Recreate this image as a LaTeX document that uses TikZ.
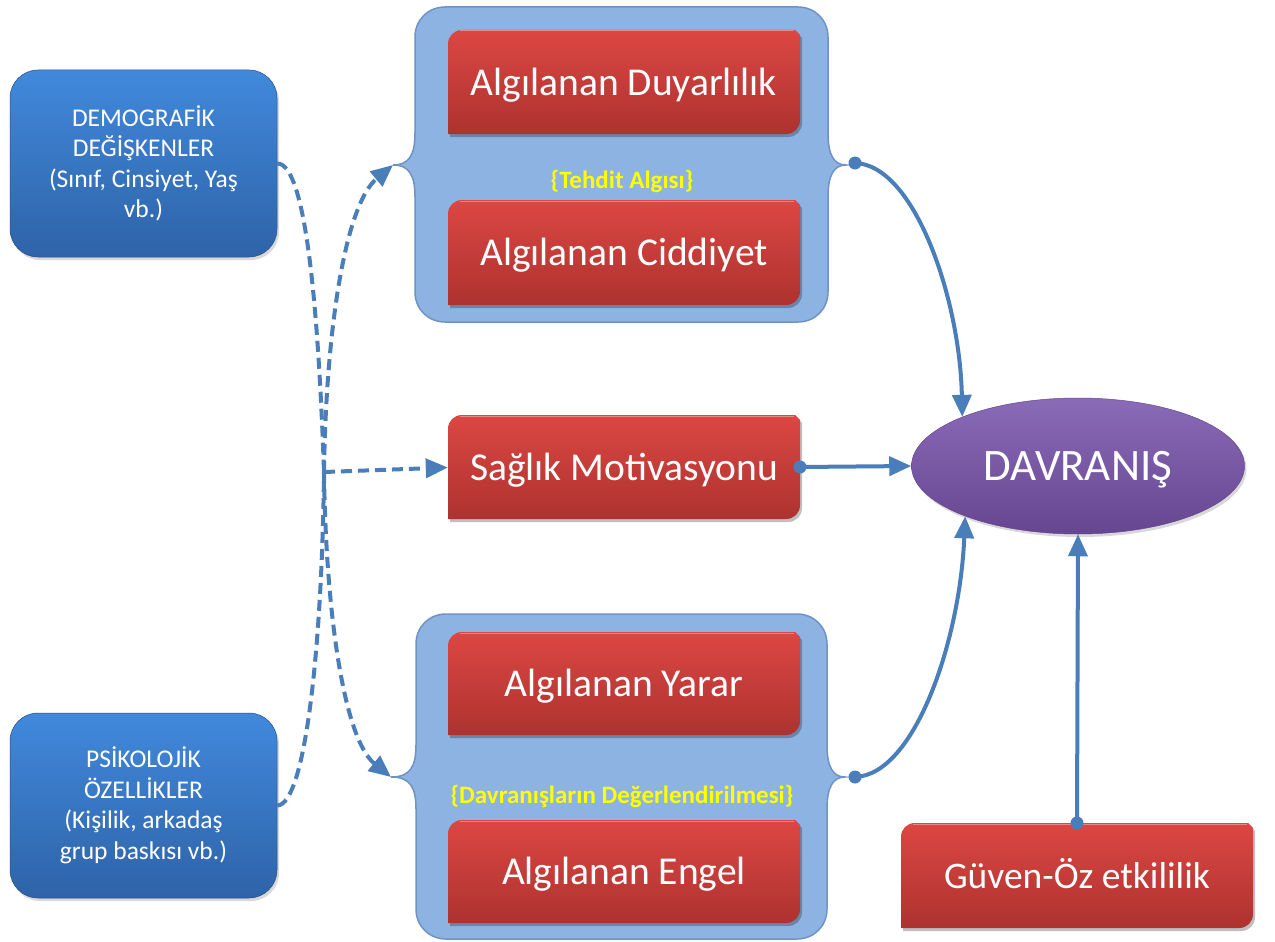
\documentclass[tikz,border=0pt]{standalone}
\usepackage{fontspec}
\setmainfont{Carlito}
\usetikzlibrary{arrows.meta,shapes.geometric,shadows}
\definecolor{bT}{HTML}{4189DC}
\definecolor{bB}{HTML}{2E63A8}
\definecolor{rT}{HTML}{DC4742}
\definecolor{rB}{HTML}{AD3230}
\definecolor{gF}{HTML}{8DB3E2}
\definecolor{gD}{HTML}{6F93C4}
\definecolor{pT}{HTML}{8A6BB8}
\definecolor{pB}{HTML}{664690}
\definecolor{lb}{HTML}{4A7EBB}
\definecolor{yl}{HTML}{FFFF00}

\newcommand\redshape[4]{%
 \fill[black,opacity=.25,xshift=2pt,yshift=-3pt] (#1,{#2+14}) .. controls (#1,{#2+6}) and ({#1+6},#2) .. ({#1+14},#2) -- ({#3-5},#2) -- (#3,{#2+5}) -- (#3,{#4-14}) .. controls (#3,{#4-6}) and ({#3-6},#4) .. ({#3-14},#4) -- (#1,#4) -- cycle;
 \shade[top color=rT,bottom color=rB] (#1,{#2+14}) .. controls (#1,{#2+6}) and ({#1+6},#2) .. ({#1+14},#2) -- ({#3-5},#2) -- (#3,{#2+5}) -- (#3,{#4-14}) .. controls (#3,{#4-6}) and ({#3-6},#4) .. ({#3-14},#4) -- (#1,#4) -- cycle;
 \draw[white,opacity=.35,line width=1pt] ({#1+12},{#2+1}) -- ({#3-6},{#2+1});
}
\newcommand\grpshape[7]{%
 \path[fill=gF,draw=gD,line width=1.5pt]
 ({#1+30},#2) -- ({#3-30},#2) .. controls ({#3-13},#2) and (#3,{#2+13}) .. (#3,{#2+30})
 -- (#3,{#5-32}) .. controls (#3,{#5-10}) and ({#3+6},#5) .. (#7,#5) .. controls ({#3+6},#5) and (#3,{#5+10}) .. (#3,{#5+32})
 -- (#3,{#4-30}) .. controls (#3,{#4-13}) and ({#3-13},#4) .. ({#3-30},#4)
 -- ({#1+30},#4) .. controls ({#1+13},#4) and (#1,{#4-13}) .. (#1,{#4-30})
 -- (#1,{#5+32}) .. controls (#1,{#5+10}) and ({#1-6},#5) .. (#6,#5) .. controls ({#1-6},#5) and (#1,{#5-10}) .. (#1,{#5-32})
 -- (#1,{#2+30}) .. controls (#1,{#2+13}) and ({#1+13},#2) .. ({#1+30},#2) -- cycle;
}

\begin{document}
\begin{tikzpicture}[x=1pt,y=-1pt,
  bluebox/.style={rounded corners=28pt,top color=bT,bottom color=bB,draw=bB!80!black,line width=0.5pt,
    drop shadow={opacity=0.3,shadow xshift=2pt,shadow yshift=-3pt},
    minimum width=267pt,minimum height=187pt,inner sep=0pt,text=white,align=center,
    font=\fontsize{25.5}{30.5}\selectfont},
  rtext/.style={inner sep=0pt,minimum width=352pt,minimum height=104pt,text=white,
    text height=25.4pt,text depth=0pt,font=\fontsize{39.5}{44}\selectfont},
  ytext/.style={inner sep=0pt,text=yl,text height=16.1pt,text depth=0pt,
    font=\bfseries\fontsize{25}{30}\selectfont},
  grpnode/.style={inner sep=0pt,minimum width=413pt,minimum height=315pt},
  dotn/.style={circle,fill=lb,inner sep=0pt,minimum size=13pt},
  conn/.style={draw=lb,line width=4pt,-{Triangle[length=22pt,width=19pt]}},
  dline/.style={draw=lb,line width=4pt,dash pattern=on 11pt off 6pt},
  darr/.style={dline,-{Triangle[length=22pt,width=19pt]}}
]
\fill[white] (0,0) rectangle (1275,942);
\useasboundingbox (0,0) rectangle (1275,942);

% group boxes
\grpshape{415}{7}{828}{322}{165}{393}{846}
\node[grpnode] (tg) at (621.5,164.5) {};
\coordinate (tgL) at (393,165);
\grpshape{416}{614}{827}{939}{777}{391}{845}
\node[grpnode,minimum height=325pt] (bg) at (621.5,776.5) {};
\coordinate (bgL) at (391,777);

% red boxes
\redshape{448}{30}{800}{134}
\node[rtext] (duy) at (624,82.5) {Algılanan Duyarlılık};
\redshape{448}{200}{800}{305}
\node[rtext] (cid) at (624,253) {Algılanan Ciddiyet};
\redshape{448}{415}{800}{519}
\node[rtext] (sag) at (624,467.5) {Sağlık Motivasyonu};
\redshape{448}{632}{800}{735}
\node[rtext] (yar) at (624,684) {Algılanan Yarar};
\redshape{448}{820}{800}{923}
\node[rtext] (eng) at (624,872) {Algılanan Engel};
\redshape{901}{823}{1253}{928}
\node[rtext,text height=24.2pt,font=\fontsize{37.5}{44}\selectfont] (guv) at (1077,876.5) {Güven-Öz etkililik};

\node[ytext] (teh) at (622,180) {\{Tehdit Algısı\}};
\node[ytext] (deg) at (622,795) {\{Davranışların Değerlendirilmesi\}};

% left blue boxes
\node[bluebox] (demo) at (143.5,163.5) {DEMOGRAFİK\\DEĞİŞKENLER\\(Sınıf, Cinsiyet, Yaş\\vb.)};
\node[bluebox,minimum height=185pt] (psi) at (143.5,805.5) {PSİKOLOJİK\\ÖZELLİKLER\\(Kişilik, arkadaş\\grup baskısı vb.)};

% ellipse
\node[ellipse,top color=pT,bottom color=pB,draw=pB,line width=0.5pt,
  drop shadow={opacity=0.3,shadow xshift=2pt,shadow yshift=-3pt},
  minimum width=333pt,minimum height=136pt,inner sep=0pt,text=white,
  text height=29pt,text depth=0pt,
  font=\fontsize{45}{50}\selectfont] (dav) at (1078,466) {DAVRANIŞ};

% dots
\node[dotn] (d1) at (855,163) {};
\node[dotn] (d2) at (800,467) {};
\node[dotn] (d3) at (855,777) {};
\node[dotn] (d4) at (1077,823) {};

% solid connectors
\draw[conn] (d1.center) .. controls (915,165) and (960,300) .. (dav.157);
\draw[conn] (d2.center) -- (dav.west);
\draw[conn] (d3.center) .. controls (915,775) and (960,640) .. (dav.204);
\draw[conn] (d4.center) -- (dav.south);

% dashed connectors
\coordinate (J) at (324,472);
\draw[dline] (demo.east) .. controls (305,163) and (318,300) .. (J);
\draw[dline] (psi.east) .. controls (305,805) and (322,650) .. (J);
\draw[darr] (J) .. controls (326,330) and (345,205) .. (tgL);
\draw[darr] (J) -- (sag.west);
\draw[darr] (J) .. controls (326,620) and (345,740) .. (bgL);
\end{tikzpicture}
\end{document}
